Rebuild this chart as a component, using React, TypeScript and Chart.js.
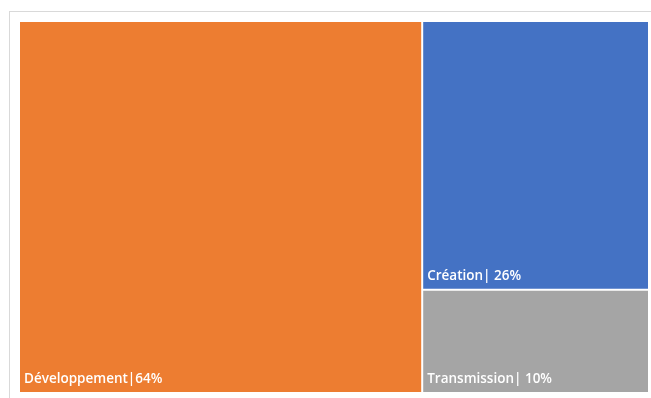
import React, { useEffect, useRef } from "react";
import { Chart, registerables } from "chart.js";

Chart.register(...registerables);

// ---- data ----
const categories = ["Développement", "Création", "Transmission"];
const shares = [64, 26, 10];
const labelTexts = ["Développement|64%", "Création| 26%", "Transmission| 10%"];
const colors = ["#ED7D31", "#4472C4", "#A5A5A5"];

const framePlugin = {
  id: "frame",
  beforeDraw(chart: any) {
    const ctx = chart.ctx;
    ctx.save();
    ctx.fillStyle = "#ffffff";
    ctx.fillRect(0, 0, chart.width, chart.height);
    ctx.strokeStyle = "#D9D9D9";
    ctx.lineWidth = 1;
    ctx.strokeRect(9.5, 11.5, chart.width + 20, chart.height + 20);
    ctx.restore();
  },
};

const labelPlugin = {
  id: "tmLabels",
  afterDatasetsDraw(chart: any) {
    const ctx = chart.ctx;
    ctx.save();
    ctx.fillStyle = "#ffffff";
    ctx.font = "600 13.5px 'Open Sans', sans-serif";
    ctx.textBaseline = "alphabetic";
    ctx.textAlign = "left";
    chart.data.datasets.forEach((ds: any, di: number) => {
      const meta = chart.getDatasetMeta(di);
      meta.data.forEach((el: any, i: number) => {
        const p = el.getProps(["x", "y", "base", "width"], true);
        const left = p.x - p.width / 2;
        const bottom = Math.max(p.y, p.base);
        const text = ds.labelTexts[i];
        ctx.fillText(text, left + 5, bottom - 10);
      });
    });
    ctx.restore();
  },
};

export default function App() {
  const ref = useRef<HTMLCanvasElement | null>(null);

  useEffect(() => {
    if (!ref.current) return;
    const total = shares.reduce((a, b) => a + b, 0);
    const leftW = (shares[0] / total) * 100;
    const rightW = 100 - leftW;
    const rightTotal = shares[1] + shares[2];
    const split = (shares[2] / rightTotal) * 100;

    const chart = new Chart(ref.current, {
      type: "bar",
      data: {
        datasets: [
          {
            label: categories[0],
            xAxisID: "xa",
            data: [{ x: leftW / 2, y: [0, 100] }] as any,
            backgroundColor: [colors[0]],
            borderColor: "#ffffff",
            borderWidth: 1,
            borderSkipped: false,
            barPercentage: leftW / 100,
            categoryPercentage: 1,
            grouped: false,
            labelTexts: [labelTexts[0]],
          } as any,
          {
            label: "right",
            xAxisID: "xb",
            data: [
              { x: leftW + rightW / 2, y: [split, 100] },
              { x: leftW + rightW / 2, y: [0, split] },
            ] as any,
            backgroundColor: [colors[1], colors[2]],
            borderColor: "#ffffff",
            borderWidth: 1,
            borderSkipped: false,
            barPercentage: rightW / 100,
            categoryPercentage: 1,
            grouped: false,
            labelTexts: [labelTexts[1], labelTexts[2]],
          } as any,
        ],
      },
      options: {
        animation: false,
        responsive: false,
        layout: { padding: { left: 19, top: 21, right: 2, bottom: 5 } },
        plugins: { legend: { display: false }, tooltip: { enabled: false } },
        scales: {
          xa: {
            type: "linear",
            axis: "x",
            min: 0,
            max: 100,
            offset: false,
            display: false,
            ticks: { stepSize: 100 },
          } as any,
          xb: {
            type: "linear",
            axis: "x",
            min: 0,
            max: 100,
            offset: false,
            display: false,
            ticks: { stepSize: 100 },
          } as any,
          y: {
            type: "linear",
            min: 0,
            max: 100,
            display: false,
            ticks: { stepSize: 100 },
          },
        },
      },
      plugins: [framePlugin, labelPlugin],
    });
    return () => chart.destroy();
  }, []);

  return (
    <div style={{ position: "fixed", left: 0, top: 0, width: 651, height: 398 }}>
      <canvas ref={ref} width={651} height={398} style={{ display: "block" }} />
    </div>
  );
}
